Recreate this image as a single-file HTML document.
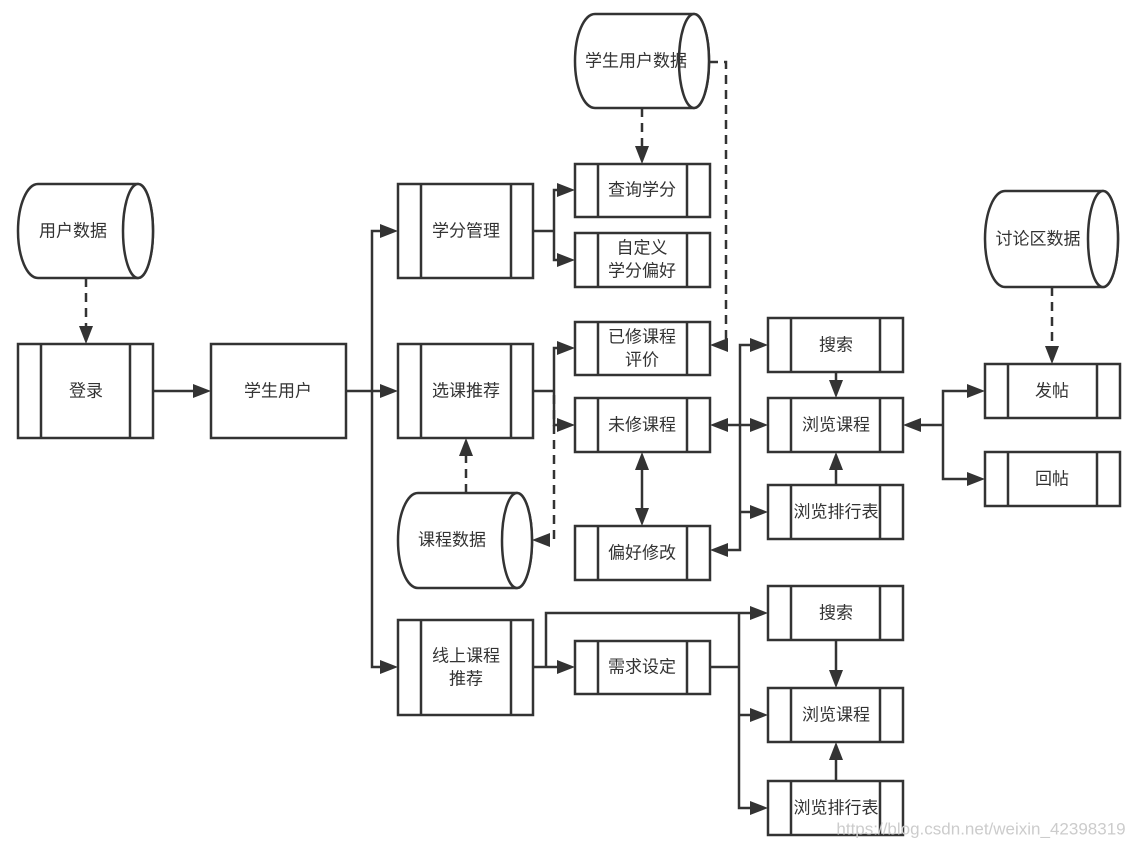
<!DOCTYPE html>
<html><head><meta charset="utf-8"><style>
html,body{margin:0;padding:0;background:#fff;}
svg{display:block;}
text{font-family:"Liberation Sans","Noto Sans CJK SC",sans-serif;font-size:17px;fill:#333;text-anchor:middle;dominant-baseline:central;}
.b{fill:#fff;stroke:#333;stroke-width:2.5;}
.l{fill:none;stroke:#333;stroke-width:2.5;}
.d{fill:none;stroke:#333;stroke-width:2.5;stroke-dasharray:9,6;}
.a{fill:#333;}
</style></head><body>
<svg width="1134" height="848" viewBox="0 0 1134 848">
<g>
<rect class="b" x="18" y="344" width="135" height="94"/><line class="l" x1="41" y1="344" x2="41" y2="438"/><line class="l" x1="130" y1="344" x2="130" y2="438"/>
<rect class="b" x="211" y="344" width="135" height="94"/>
<rect class="b" x="398" y="184" width="135" height="94"/><line class="l" x1="421" y1="184" x2="421" y2="278"/><line class="l" x1="511" y1="184" x2="511" y2="278"/>
<rect class="b" x="398" y="344" width="135" height="94"/><line class="l" x1="421" y1="344" x2="421" y2="438"/><line class="l" x1="511" y1="344" x2="511" y2="438"/>
<rect class="b" x="398" y="620" width="135" height="95"/><line class="l" x1="421" y1="620" x2="421" y2="715"/><line class="l" x1="511" y1="620" x2="511" y2="715"/>
</g>
<g>
<rect class="b" x="575" y="164" width="135" height="53"/><line class="l" x1="598" y1="164" x2="598" y2="217"/><line class="l" x1="687" y1="164" x2="687" y2="217"/>
<rect class="b" x="575" y="233" width="135" height="54"/><line class="l" x1="598" y1="233" x2="598" y2="287"/><line class="l" x1="687" y1="233" x2="687" y2="287"/>
<rect class="b" x="575" y="322" width="135" height="53"/><line class="l" x1="598" y1="322" x2="598" y2="375"/><line class="l" x1="687" y1="322" x2="687" y2="375"/>
<rect class="b" x="575" y="398" width="135" height="54"/><line class="l" x1="598" y1="398" x2="598" y2="452"/><line class="l" x1="687" y1="398" x2="687" y2="452"/>
<rect class="b" x="575" y="526" width="135" height="54"/><line class="l" x1="598" y1="526" x2="598" y2="580"/><line class="l" x1="687" y1="526" x2="687" y2="580"/>
<rect class="b" x="575" y="641" width="135" height="53"/><line class="l" x1="598" y1="641" x2="598" y2="694"/><line class="l" x1="687" y1="641" x2="687" y2="694"/>
<rect class="b" x="768" y="318" width="135" height="54"/><line class="l" x1="791" y1="318" x2="791" y2="372"/><line class="l" x1="880" y1="318" x2="880" y2="372"/>
<rect class="b" x="768" y="398" width="135" height="54"/><line class="l" x1="791" y1="398" x2="791" y2="452"/><line class="l" x1="880" y1="398" x2="880" y2="452"/>
<rect class="b" x="768" y="485" width="135" height="54"/><line class="l" x1="791" y1="485" x2="791" y2="539"/><line class="l" x1="880" y1="485" x2="880" y2="539"/>
<rect class="b" x="985" y="364" width="135" height="54"/><line class="l" x1="1008" y1="364" x2="1008" y2="418"/><line class="l" x1="1097" y1="364" x2="1097" y2="418"/>
<rect class="b" x="985" y="452" width="135" height="54"/><line class="l" x1="1008" y1="452" x2="1008" y2="506"/><line class="l" x1="1097" y1="452" x2="1097" y2="506"/>
<rect class="b" x="768" y="586" width="135" height="54"/><line class="l" x1="791" y1="586" x2="791" y2="640"/><line class="l" x1="880" y1="586" x2="880" y2="640"/>
<rect class="b" x="768" y="688" width="135" height="54"/><line class="l" x1="791" y1="688" x2="791" y2="742"/><line class="l" x1="880" y1="688" x2="880" y2="742"/>
<rect class="b" x="768" y="781" width="135" height="54"/><line class="l" x1="791" y1="781" x2="791" y2="835"/><line class="l" x1="880" y1="781" x2="880" y2="835"/>
</g>
<g>
<path class="b" d="M38,184 A20,47 0 0 0 38,278 L138,278 A15,47 0 0 0 138,184 Z"/><ellipse class="b" cx="138" cy="231" rx="15" ry="47"/>
<path class="b" d="M595,14 A20,47 0 0 0 595,108 L694,108 A15,47 0 0 0 694,14 Z"/><ellipse class="b" cx="694" cy="61" rx="15" ry="47"/>
<path class="b" d="M1005,191 A20,48 0 0 0 1005,287 L1103,287 A15,48 0 0 0 1103,191 Z"/><ellipse class="b" cx="1103" cy="239" rx="15" ry="48"/>
<path class="b" d="M418,493 A20,47.5 0 0 0 418,588 L517,588 A15,47.5 0 0 0 517,493 Z"/><ellipse class="b" cx="517" cy="540.5" rx="15" ry="47.5"/>
</g>
<g>
<line class="d" x1="86" y1="278" x2="86" y2="328"/>
<line class="l" x1="153" y1="391" x2="195" y2="391"/>
<line class="l" x1="346" y1="391" x2="372" y2="391"/>
<polyline class="l" points="382,231 372,231 372,667 382,667"/>
<line class="l" x1="372" y1="391" x2="382" y2="391"/>
<polyline class="l" points="533,231 554,231"/>
<polyline class="l" points="559,190 554,190 554,260 559,260"/>
<polyline class="l" points="533,391 554,391"/>
<polyline class="l" points="559,348 554,348 554,425 559,425"/>
<polyline class="d" points="554,395 554,540 548,540"/>
<line class="d" x1="466" y1="493" x2="466" y2="456"/>
<line class="d" x1="642" y1="108" x2="642" y2="148"/>
<polyline class="d" points="709,62 726,62 726,345"/>
<line class="l" x1="642" y1="470" x2="642" y2="508"/>
<polyline class="l" points="726,425 740,425"/>
<polyline class="l" points="752,345 740,345 740,550 726,550"/>
<line class="l" x1="740" y1="512" x2="752" y2="512"/>
<line class="l" x1="740" y1="425" x2="752" y2="425"/>
<line class="l" x1="836" y1="372" x2="836" y2="382"/>
<line class="l" x1="836" y1="485" x2="836" y2="470"/>
<line class="l" x1="921" y1="425" x2="943" y2="425"/>
<polyline class="l" points="969,391 943,391 943,479 969,479"/>
<line class="d" x1="1052" y1="287" x2="1052" y2="348"/>
<polyline class="l" points="533,667 559,667"/>
<polyline class="l" points="546,667 546,613 752,613"/>
<polyline class="l" points="710,667 739,667"/>
<polyline class="l" points="739,613 739,808 752,808"/>
<line class="l" x1="739" y1="715" x2="752" y2="715"/>
<line class="l" x1="836" y1="640" x2="836" y2="672"/>
<line class="l" x1="836" y1="781" x2="836" y2="758"/>
</g>
<g class="a">
<polygon points="86,344 79,326 93,326"/>
<polygon points="211,391 193,384 193,398"/>
<polygon points="398,231 380,224 380,238"/>
<polygon points="398,391 380,384 380,398"/>
<polygon points="398,667 380,660 380,674"/>
<polygon points="575,190 557,183 557,197"/>
<polygon points="575,260 557,253 557,267"/>
<polygon points="575,348 557,341 557,355"/>
<polygon points="575,425 557,418 557,432"/>
<polygon points="532,540 550,533 550,547"/>
<polygon points="466,438 459,456 473,456"/>
<polygon points="642,164 635,146 649,146"/>
<polygon points="710,345 728,338 728,352"/>
<polygon points="642,452 635,470 649,470"/>
<polygon points="642,526 635,508 649,508"/>
<polygon points="710,425 728,418 728,432"/>
<polygon points="710,550 728,543 728,557"/>
<polygon points="768,345 750,338 750,352"/>
<polygon points="768,425 750,418 750,432"/>
<polygon points="768,512 750,505 750,519"/>
<polygon points="836,398 829,380 843,380"/>
<polygon points="836,452 829,470 843,470"/>
<polygon points="903,425 921,418 921,432"/>
<polygon points="985,391 967,384 967,398"/>
<polygon points="985,479 967,472 967,486"/>
<polygon points="1052,364 1045,346 1059,346"/>
<polygon points="575,667 557,660 557,674"/>
<polygon points="768,613 750,606 750,620"/>
<polygon points="768,715 750,708 750,722"/>
<polygon points="768,808 750,801 750,815"/>
<polygon points="836,688 829,670 843,670"/>
<polygon points="836,742 829,760 843,760"/>
</g>
<g>
<text x="73" y="231">用户数据</text>
<text x="86" y="391">登录</text>
<text x="278" y="391">学生用户</text>
<text x="466" y="231">学分管理</text>
<text x="466" y="391">选课推荐</text>
<text x="466" y="656">线上课程</text>
<text x="466" y="679">推荐</text>
<text x="636" y="61">学生用户数据</text>
<text x="642" y="190">查询学分</text>
<text x="642" y="248">自定义</text>
<text x="642" y="271">学分偏好</text>
<text x="642" y="337">已修课程</text>
<text x="642" y="360">评价</text>
<text x="642" y="425">未修课程</text>
<text x="642" y="553">偏好修改</text>
<text x="642" y="667">需求设定</text>
<text x="452" y="540">课程数据</text>
<text x="836" y="345">搜索</text>
<text x="836" y="425">浏览课程</text>
<text x="836" y="512">浏览排行表</text>
<text x="1038" y="239">讨论区数据</text>
<text x="1052" y="391">发帖</text>
<text x="1052" y="479">回帖</text>
<text x="836" y="613">搜索</text>
<text x="836" y="715">浏览课程</text>
<text x="836" y="808">浏览排行表</text>
<text x="981" y="829" style="font-size:17px;fill:#ccc;">https://blog.csdn.net/weixin_42398319</text>
</g>
</svg>
</body></html>
